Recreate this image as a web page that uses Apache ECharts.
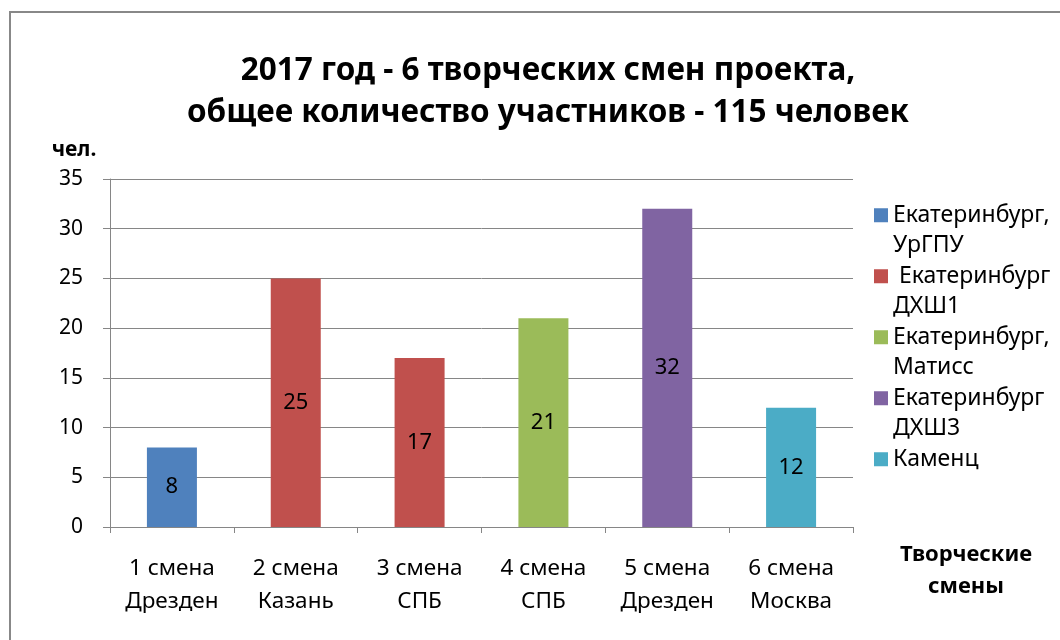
<!DOCTYPE html>
<html>
<head>
<meta charset="utf-8">
<script src="https://cdn.jsdelivr.net/npm/echarts@6/dist/echarts.min.js"></script>
<style>
html,body{margin:0;padding:0;background:#fff;}
#chart{width:1060px;height:640px;}
</style>
</head>
<body>
<div id="chart"></div>
<script>
const categories = ['1 смена\nДрезден', '2 смена\nКазань', '3 смена\nСПБ', '4 смена\nСПБ', '5 смена\nДрезден', '6 смена\nМосква'];
const seriesNames = ['Екатеринбург,\nУрГПУ', ' Екатеринбург\nДХШ1', 'Екатеринбург,\nМатисс', 'Екатеринбург\nДХШ3', 'Каменц\n'];
const urgpu   = [8, '-', '-', '-', '-', '-'];
const dhsh1   = ['-', 25, 17, '-', '-', '-'];
const matiss  = ['-', '-', '-', 21, '-', '-'];
const dhsh3   = ['-', '-', '-', '-', 32, '-'];
const kamenz  = ['-', '-', '-', '-', '-', 12];
const seriesValues = [urgpu, dhsh1, matiss, dhsh3, kamenz];
const colors = ['#4F81BD', '#C0504D', '#9BBB59', '#8064A2', '#4BACC6'];
const yTicks = { min: 0, max: 35, interval: 5 };

const FONT = '"Noto Sans", sans-serif';
const chart = echarts.init(document.getElementById('chart'), null, { renderer: 'canvas' });
const iconPath = 'path://M0,0L0.01,0L0.01,0.01Z M0,8.25L14,8.25L14,22.25L0,22.25Z M0,60.99L0.01,60.99L0.01,61Z';

chart.setOption({
  animation: false,
  backgroundColor: '#fff',
  textStyle: { fontFamily: FONT },
  title: {
    text: '2017 год - 6 творческих смен проекта,\nобщее количество участников - 115 человек',
    left: 548,
    textAlign: 'center',
    top: 50,
    padding: 0,
    textStyle: { fontFamily: FONT, fontSize: 31.5, fontWeight: 'bold', color: '#000', lineHeight: 42 }
  },
  legend: {
    orient: 'vertical',
    left: 874,
    top: 200,
    padding: 0,
    itemGap: 0,
    itemWidth: 14,
    itemHeight: 61,
    data: seriesNames.map(n => ({ name: n, icon: iconPath })),
    textStyle: { fontFamily: FONT, fontSize: 23, color: '#000', lineHeight: 30.5 }
  },
  grid: { left: 110, right: 207, top: 179, bottom: 113 },
  xAxis: {
    type: 'category',
    data: categories,
    axisLine: { lineStyle: { color: '#868686', width: 1 } },
    axisTick: { show: true, length: 6, interval: 0, lineStyle: { color: '#868686' } },
    axisLabel: { color: '#000', fontSize: 22.5, lineHeight: 33, margin: 25, interval: 0, hideOverlap: false, fontFamily: FONT }
  },
  yAxis: {
    type: 'value',
    min: yTicks.min, max: yTicks.max, interval: yTicks.interval,
    axisLine: { show: true, lineStyle: { color: '#868686', width: 1 } },
    axisTick: { show: true, length: 7, lineStyle: { color: '#868686' } },
    splitLine: { lineStyle: { color: '#868686', width: 1 } },
    axisLabel: { color: '#000', fontSize: 21, margin: 27, fontFamily: FONT }
  },
  series: seriesNames.map((n, i) => ({
    name: n,
    type: 'bar',
    stack: 'all',
    barWidth: 50,
    data: seriesValues[i],
    itemStyle: { color: colors[i] },
    label: { show: true, position: 'inside', color: '#000', fontSize: 22, fontFamily: FONT }
  })),
  graphic: [
    { type: 'rect', silent: true, shape: { x: 10, y: 12, width: 1100, height: 700 },
      style: { fill: 'none', stroke: '#888888', lineWidth: 2 } },
    { type: 'text', silent: true,
      style: { text: 'чел.', x: 74, y: 150, align: 'center', verticalAlign: 'middle',
        font: 'bold 21px "Noto Sans", sans-serif', fill: '#000' } },
    { type: 'text', silent: true,
      style: { text: 'Творческие\nсмены', x: 966, y: 571, align: 'center', verticalAlign: 'middle',
        font: 'bold 22px "Noto Sans", sans-serif', lineHeight: 32, fill: '#000' } }
  ]
});
</script>
</body>
</html>
